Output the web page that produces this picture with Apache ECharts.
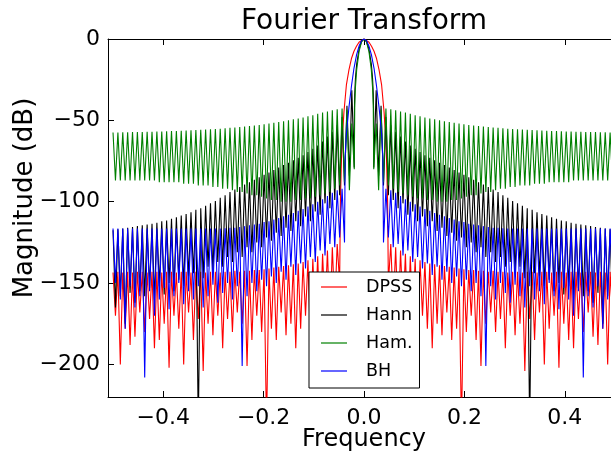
<!DOCTYPE html>
<html>
<head>
<meta charset="utf-8">
<script src="https://cdn.jsdelivr.net/npm/echarts@6/dist/echarts.min.js"></script>
<style>
  html, body { margin: 0; padding: 0; background: #fff; }
  #chart { width: 611px; height: 455px; }
</style>
</head>
<body>
<div id="chart"></div>
<script>
// Spectral leakage of four tapers: magnitude in dB versus normalised frequency.
// The spectra are symmetric, so only the positive-frequency half is listed.
// Side lobes sit on a regular grid: null k at k*LOBE, lobe peak at (k+0.5)*LOBE.
const LOBE = 1 / 103;

const seriesNames = ['DPSS', 'Hann', 'Ham.', 'BH'];
const xTicks = [-0.4, -0.2, 0.0, 0.2, 0.4];
const yTicks = [0, -50, -100, -150, -200];

// ---- DPSS ----
const dpssMain = [[0, 0], [0.01, -2], [0.015, -4.5], [0.02, -7.5], [0.025, -12], [0.03, -19],
  [0.035, -28], [0.04, -45], [0.043, -60], [0.045, -75], [0.047, -100]];
const dpssFirstNull = 5;
const dpssNulls = [-150, -165, -175, -168, -180, -172, -185, -170, -178, -190,
  -175, -182, -168, -185, -178, -240, -180, -170, -185, -201,
  -175, -168, -180, -172, -190, -170, -182, -175, -204, -172,
  -185, -168, -200, -178, -170, -202, -175, -185, -190, -172,
  -180, -168, -183, -188, -178, -200, -170];
const dpssPeaks = [-126, -128, -130, -132, -133.5, -135, -136, -137, -138, -138.5,
  -139, -139.5, -140, -140.5, -141, -141.5, -142, -142, -142.5, -142.5,
  -143, -142.5, -143, -143, -143.5, -143, -143, -143.5, -143, -143,
  -143.5, -143, -143, -143.5, -143, -143, -143.5, -143, -143, -143.5,
  -143, -143, -143.5, -143, -143.5, -143, -143.5];

// ---- Hann ----
const hannMain = [[0, 0], [0.0049, -1.4], [0.0097, -6], [0.0146, -15.4], [0.017, -24],
  [0.0185, -34], [0.0191, -45]];
const hannFirstNull = 2;
const hannNulls = [-79, -84, -90, -96, -99, -104, -101, -108, -106, -112,
  -109, -115, -112, -118, -116, -121, -119, -124, -122, -128,
  -125, -131, -128, -134, -131, -137, -134, -140, -137, -143,
  -140, -147, -240, -144, -146, -152, -148, -155, -150, -157,
  -152, -160, -153, -158, -155, -162, -156, -175, -158, -165];
const hannPeaks = [-31.5, -41, -48, -53, -57, -60, -63, -65.5, -67.5, -69.5,
  -71.5, -73, -74.5, -76, -77.5, -79, -80.5, -82, -83.5, -85,
  -86.5, -88, -89.5, -91, -92.5, -94, -96, -97.5, -99.5, -101,
  -102.5, -104, -105, -106.5, -107.5, -108.5, -109.5, -110.5, -111.5, -112,
  -113, -113.5, -114, -114.5, -115, -115.5, -116, -116.5, -117, -117.5];

// ---- Hamming ----
const hamMain = [[0, 0], [0.00485, -1.75], [0.0097, -7.4], [0.01456, -18.9], [0.017, -29.4],
  [0.01845, -40.7]];
const hamFirstNull = 2;
const hamNulls = [-80, -93, -88, -90, -92, -94, -95, -96, -97, -98,
  -98, -99, -99, -100, -100, -100, -99, -99, -98, -97,
  -96, -96, -95, -94, -94, -93, -92, -92, -91, -91,
  -90, -90, -90, -89, -89, -89, -88, -88, -88, -88,
  -88, -87, -87, -87, -87, -87, -87, -87, -87, -87];
const hamPeaks = [-52, -43.5, -42.7, -43.2, -43.8, -44.5, -45.2, -46, -46.8, -47.5,
  -48.2, -48.8, -49.4, -50, -50.5, -51, -51.5, -52, -52.4, -52.8,
  -53.2, -53.5, -53.8, -54.1, -54.4, -54.6, -54.9, -55.1, -55.3, -55.5,
  -55.7, -55.8, -56, -56.1, -56.2, -56.4, -56.5, -56.6, -56.7, -56.8,
  -56.9, -57, -57, -57.1, -57.2, -57.2, -57.3, -57.3, -57.4, -57.4];

// ---- Blackman-Harris ----
const bhMain = [[0, 0], [0.005, -1], [0.01, -4.5], [0.015, -10], [0.02, -18], [0.025, -29],
  [0.03, -42], [0.035, -58], [0.0375, -72]];
const bhFirstNull = 4;
const bhNulls = [-125, -122, -128, -126, -133, -130, -137, -134, -141, -138,
  -145, -140, -148, -143, -150, -146, -152, -148, -155, -150,
  -158, -201, -152, -160, -150, -156, -162, -151, -158, -165,
  -152, -160, -155, -163, -150, -158, -166, -153, -160, -170,
  -155, -208, -158, -165, -152, -178, -160, -150];
const bhPeaks = [-92, -93, -94.5, -96.5, -98.5, -100, -101.5, -103, -104.5, -105.5,
  -107, -108, -109, -110, -111, -112, -112.5, -113.5, -114, -114.5,
  -115, -115.5, -116, -116, -116.3, -116.5, -116.5, -116.5, -116.5, -116.5,
  -116.5, -116.5, -116.5, -116.5, -116.5, -116.5, -116.5, -116.5, -116.5, -116.5,
  -116.5, -116.5, -116.5, -116.5, -116.5, -116.5, -116.5, -116.5];

const colors = ['#ff0000', '#000000', '#008000', '#0000ff'];

// Main lobe followed by alternating null / peak points, then mirrored to negative frequency.
function buildSpectrum(main, firstNull, nulls, peaks) {
  const pos = main.map(p => p.slice());
  nulls.forEach((v, i) => {
    const k = firstNull + i;
    pos.push([k * LOBE, v]);
    pos.push([(k + 0.5) * LOBE, peaks[i]]);
  });
  const neg = pos.slice(1).reverse().map(([f, v]) => [-f, v]);
  return neg.concat(pos);
}

const spectra = [
  buildSpectrum(dpssMain, dpssFirstNull, dpssNulls, dpssPeaks),
  buildSpectrum(hannMain, hannFirstNull, hannNulls, hannPeaks),
  buildSpectrum(hamMain, hamFirstNull, hamNulls, hamPeaks),
  buildSpectrum(bhMain, bhFirstNull, bhNulls, bhPeaks)
];

const FONT = 'DejaVu Sans';
const minus = s => s.replace('-', '\u2212');

const chart = echarts.init(document.getElementById('chart'), null, { renderer: 'canvas' });

// The frame runs a little past the right edge of the canvas.
const gridLeft = 108, gridTop = 39, gridWidth = 512, gridHeight = 358;

function xAxisDef(position, showLabels) {
  return {
    type: 'value', position: position, min: -0.51, max: 0.51,
    axisLine: { show: true, onZero: false, lineStyle: { color: '#000', width: 1 } },
    axisTick: { show: true, inside: true, length: 6, customValues: xTicks, lineStyle: { color: '#000', width: 1 } },
    axisLabel: {
      show: showLabels, customValues: xTicks, margin: 10,
      formatter: v => minus(Number(v).toFixed(1)),
      fontSize: 22, fontFamily: FONT, color: '#000'
    },
    splitLine: { show: false }
  };
}
function yAxisDef(position, showLabels) {
  return {
    type: 'value', position: position, min: -220, max: 0,
    axisLine: { show: true, onZero: false, lineStyle: { color: '#000', width: 1 } },
    axisTick: { show: true, inside: true, length: 6, customValues: yTicks, lineStyle: { color: '#000', width: 1 } },
    axisLabel: {
      show: showLabels, customValues: yTicks, margin: 8,
      formatter: v => minus(String(Math.round(v))),
      fontSize: 22, fontFamily: FONT, color: '#000'
    },
    splitLine: { show: false }
  };
}

chart.setOption({
  animation: false,
  backgroundColor: '#ffffff',
  grid: {
    left: gridLeft, top: gridTop, width: gridWidth, height: gridHeight,
    containLabel: false, outerBoundsMode: 'none'
  },
  xAxis: [xAxisDef('bottom', true), xAxisDef('top', false)],
  yAxis: [yAxisDef('left', true), yAxisDef('right', false)],
  legend: {
    show: true, orient: 'vertical', left: 309, top: 272,
    data: seriesNames.map(n => ({ name: n, icon: 'rect' })), selectedMode: false,
    backgroundColor: '#ffffff', borderColor: '#000000', borderWidth: 1, borderRadius: 0,
    padding: [5, 7, 7, 12], itemGap: 8, itemWidth: 26, itemHeight: 1.2,
    textStyle: { fontFamily: FONT, fontSize: 17.5, color: '#000', lineHeight: 20, padding: [0, 0, 0, 14] }
  },
  graphic: [
    { type: 'text', x: 364, y: 22, style: { text: 'Fourier Transform', font: '28px "DejaVu Sans"', fill: '#000', textAlign: 'center', textVerticalAlign: 'middle' } },
    { type: 'text', x: 364, y: 440, style: { text: 'Frequency', font: '24px "DejaVu Sans"', fill: '#000', textAlign: 'center', textVerticalAlign: 'middle' } },
    { type: 'text', x: 25, y: 198, rotation: Math.PI / 2, style: { text: 'Magnitude (dB)', font: '26px "DejaVu Sans"', fill: '#000', textAlign: 'center', textVerticalAlign: 'middle' } }
  ],
  series: spectra.map((data, i) => ({
    name: seriesNames[i], type: 'line', data: data,
    xAxisIndex: 0, yAxisIndex: 0,
    symbol: 'none', showSymbol: false, sampling: null, clip: true,
    lineStyle: { color: colors[i], width: 1.1 },
    itemStyle: { color: colors[i] },
    emphasis: { disabled: true }
  }))
});
</script>
</body>
</html>
